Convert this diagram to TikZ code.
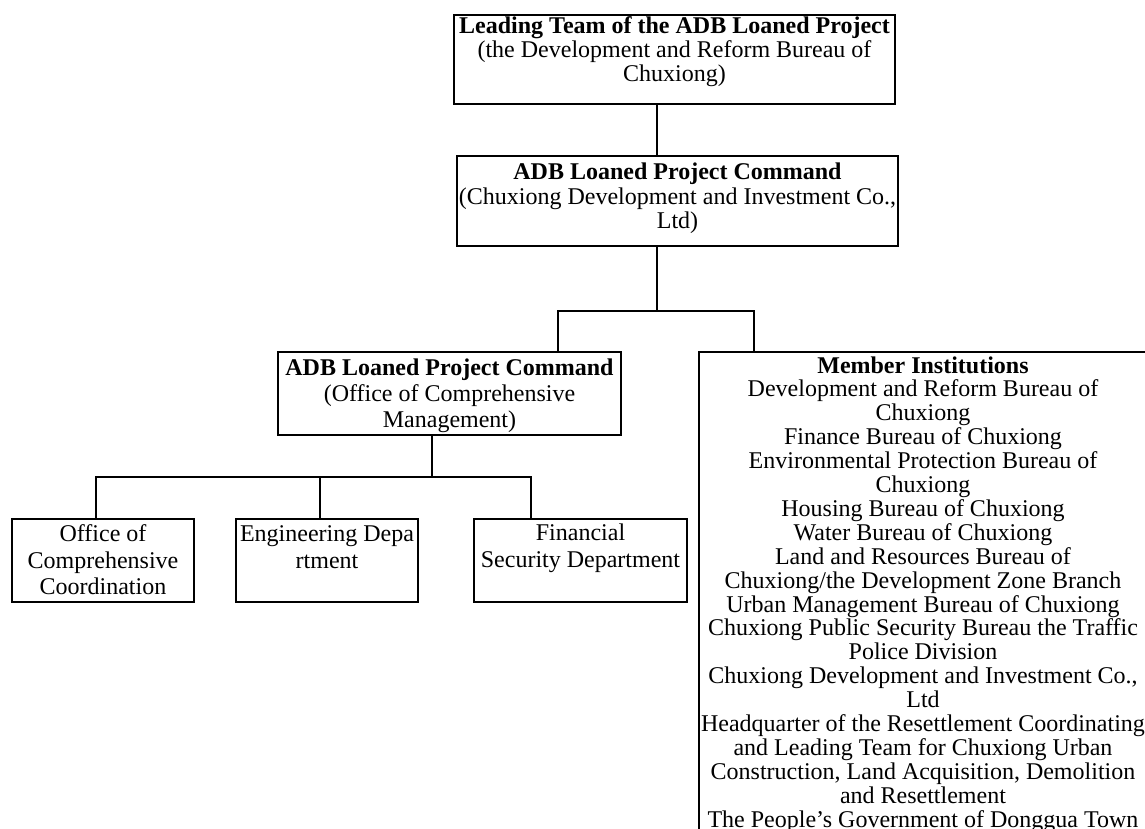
\documentclass[tikz,border=0pt]{standalone}
\usepackage{fontspec}
\setmainfont{Liberation Serif}
% #1 height, #2 width, #3 first baseline offset, #4 baselineskip, #5 text
\newcommand{\bxtext}[5]{\parbox[c][#1][t]{#2}{\fontsize{24pt}{#4}\selectfont\centering\rule{0pt}{#3}#5\par}}
\begin{document}
\begin{tikzpicture}[x=1pt,y=-1pt,
  orgbox/.style={draw, line width=1.6pt, inner sep=0pt, outer sep=0pt, anchor=north west},
  conn/.style={line width=1.6pt, line join=miter}]
\useasboundingbox (0,0) rectangle (1145,829);
\clip (0,0) rectangle (1145,829);

\node[orgbox] (b1) at (454,15) {\bxtext{89pt}{441pt}{18.3pt}{24.2pt}{\textbf{Leading Team of the ADB Loaned Project}\\(the Development and Reform Bureau of\\Chuxiong)}};
\node[orgbox] (b2) at (457,156) {\bxtext{90pt}{441pt}{24pt}{24.2pt}{\textbf{ADB Loaned Project Command}\\(Chuxiong Development and Investment Co.,\\Ltd)}};
\node[orgbox] (b3) at (278,352) {\bxtext{83pt}{343pt}{23pt}{26.4pt}{\textbf{ADB Loaned Project Command}\\(Office of Comprehensive\\Management)}};
\node[orgbox] (b4) at (12,519) {\bxtext{83pt}{182pt}{22.7pt}{26.6pt}{Office of\\Comprehensive\\Coordination}};
\node[orgbox] (b5) at (236,519) {\bxtext{83pt}{182pt}{22.7pt}{26.6pt}{Engineering Depa\\rtment}};
\node[orgbox] (b6) at (474,519) {\bxtext{83pt}{213pt}{21.5pt}{26.6pt}{Financial\\Security Department}};
\node[orgbox] (mem) at (699,352) {\bxtext{520pt}{448pt}{21pt}{23.9pt}{\textbf{Member Institutions}\\
Development and Reform Bureau of\\
Chuxiong\\
Finance Bureau of Chuxiong\\
Environmental Protection Bureau of\\
Chuxiong\\
Housing Bureau of Chuxiong\\
Water Bureau of Chuxiong\\
Land and Resources Bureau of\\
Chuxiong/the Development Zone Branch\\
Urban Management Bureau of Chuxiong\\
Chuxiong Public Security Bureau the Traffic\\
Police Division\\
Chuxiong Development and Investment Co.,\\
Ltd\\
Headquarter of the Resettlement Coordinating\\
and Leading Team for Chuxiong Urban\\
Construction, Land Acquisition, Demolition\\
and Resettlement\\
The People’s Government of Donggua Town}};

\coordinate (j1) at (657,311);
\coordinate (t3) at (558,311);
\coordinate (tm) at (754,311);
\coordinate (j2) at (432,477);
\coordinate (k4) at (96,477);
\coordinate (k5) at (320,477);
\coordinate (k6) at (531,477);

\draw[conn] (b1.south -| j1) -- (b2.north -| j1);
\draw[conn] (b2.south -| j1) -- (j1);
\draw[conn] (b3.north -| t3) -- (t3) -- (tm) -- (mem.north -| tm);
\draw[conn] (b3.south -| j2) -- (j2);
\draw[conn] (b4.north -| k4) -- (k4) -- (k6) -- (b6.north -| k6);
\draw[conn] (k5) -- (b5.north -| k5);
\end{tikzpicture}
\end{document}
